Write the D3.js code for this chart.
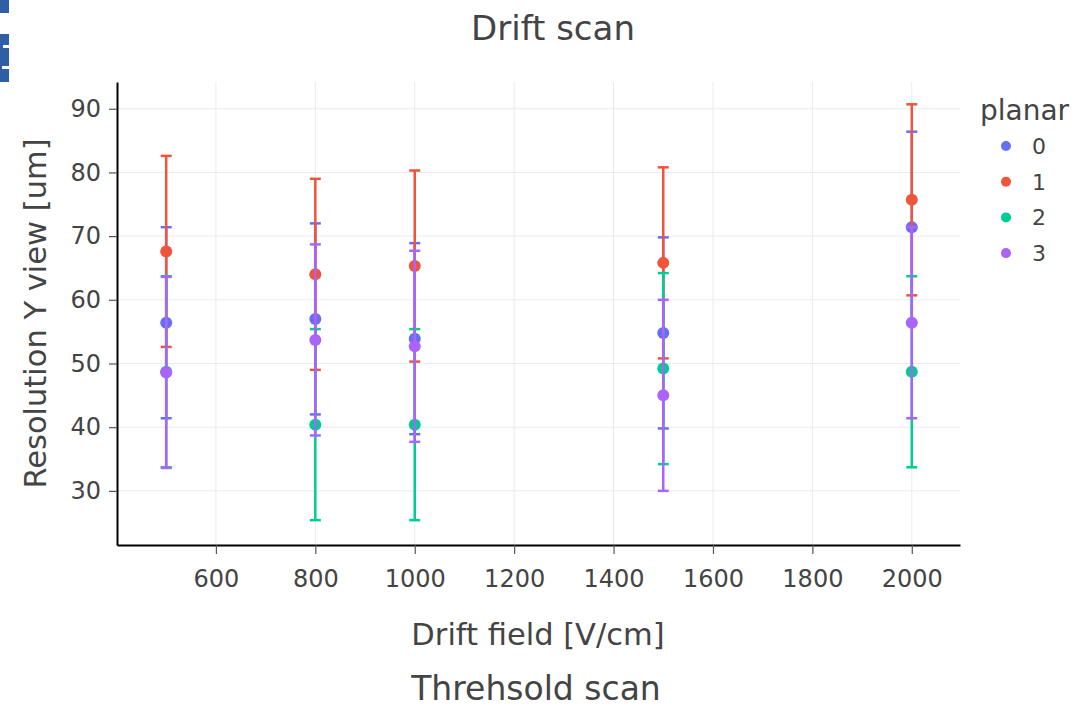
<!DOCTYPE html>
<html>
<head>
<meta charset="utf-8">
<script src="https://cdn.jsdelivr.net/npm/d3@7"></script>
<style>
    body { margin: 0; background: #fff; }
    svg { display: block; font-family: "DejaVu Sans", Verdana, sans-serif; }
</style>
</head>
<body>
<script>
// drift field values (x) and resolution per planar (y), all with +-15 error bars
var driftField = [500, 800, 1000, 1500, 2000];
var planars = ["0", "1", "2", "3"];
var res0 = [56.4, 57.0, 53.9, 54.8, 71.4];
var res1 = [67.6, 64.0, 65.3, 65.8, 75.7];
var res2 = [48.7, 40.4, 40.4, 49.2, 48.7];
var res3 = [48.6, 53.7, 52.7, 45.0, 56.4];
var err0 = [15, 15, 15, 15, 15];
var err1 = [15, 15, 15, 15, 15];
var err2 = [15, 15, 15, 15, 15];
var err3 = [15, 15, 15, 15, 15];
var xTicks = [600, 800, 1000, 1200, 1400, 1600, 1800, 2000];
var yTicks = [30, 40, 50, 60, 70, 80, 90];
var colors = ["#636efa", "#EF553B", "#00cc96", "#ab63fa"];

window.onload = function() {
    var series = [
        {name: planars[0], y: res0, err: err0, color: colors[0]},
        {name: planars[1], y: res1, err: err1, color: colors[1]},
        {name: planars[2], y: res2, err: err2, color: colors[2]},
        {name: planars[3], y: res3, err: err3, color: colors[3]}
    ];
    drawChart(series);
}

function drawChart(series) {
    var width = 1089;
    var height = 707;
    var left = 117, right = 960, top = 82, bottom = 545;

    var svg = d3.select("body")
                .append("svg")
                .attr("width", width)
                .attr("height", height);

    // leftover bit of an icon in the corner of the screenshot
    svg.append("rect").attr("x", 0).attr("y", 0).attr("width", 9).attr("height", 13).attr("fill", "#2f5ea8");
    svg.append("rect").attr("x", 0).attr("y", 34).attr("width", 9).attr("height", 48).attr("fill", "#2f5ea8");
    svg.append("rect").attr("x", 3).attr("y", 45).attr("width", 6).attr("height", 3).attr("fill", "#fff");
    svg.append("rect").attr("x", 2).attr("y", 66).attr("width", 7).attr("height", 3).attr("fill", "#fff");

    var x = d3.scaleLinear().domain([401, 2097]).range([left, right]);
    var y = d3.scaleLinear().domain([21.5, 94.2]).range([bottom, top]);

    // grid
    var grid = svg.append("g").classed("grid", true);
    grid.selectAll("line.gx")
        .data(xTicks)
        .enter()
        .append("line")
        .attr("x1", function(d) {return x(d);})
        .attr("x2", function(d) {return x(d);})
        .attr("y1", top)
        .attr("y2", bottom)
        .attr("stroke", "#ebebeb")
        .attr("stroke-width", 1);
    grid.selectAll("line.gy")
        .data(yTicks)
        .enter()
        .append("line")
        .attr("x1", left)
        .attr("x2", right)
        .attr("y1", function(d) {return y(d);})
        .attr("y2", function(d) {return y(d);})
        .attr("stroke", "#ebebeb")
        .attr("stroke-width", 1);

    // axes
    var xAxis = svg.append("g")
        .attr("transform", "translate(0," + bottom + ")")
        .call(d3.axisBottom(x).tickValues(xTicks).tickFormat(d3.format("d"))
            .tickSize(9).tickPadding(16).tickSizeOuter(0));
    var yAxis = svg.append("g")
        .attr("transform", "translate(" + left + ",0)")
        .call(d3.axisLeft(y).tickValues(yTicks).tickSize(8).tickPadding(8).tickSizeOuter(0));

    [xAxis, yAxis].forEach(function(a) {
        a.select(".domain").attr("stroke", "#000").attr("stroke-width", 2);
        a.selectAll(".tick line").attr("stroke", "#555").attr("stroke-width", 1.2);
        a.selectAll(".tick text")
            .attr("fill", "#444")
            .style("font-size", "24px")
            .style("font-family", "DejaVu Sans, Verdana, sans-serif");
    });

    // error bars and points, one trace after the other
    series.forEach(function(s) {
        var g = svg.append("g").classed("trace", true);
        var bars = g.selectAll("g.err")
            .data(driftField.map(function(d, i) {return {x: d, y: s.y[i], e: s.err[i]};}))
            .enter()
            .append("g");
        bars.append("line")
            .attr("x1", function(d) {return x(d.x);})
            .attr("x2", function(d) {return x(d.x);})
            .attr("y1", function(d) {return y(d.y + d.e);})
            .attr("y2", function(d) {return y(d.y - d.e);})
            .attr("stroke", s.color)
            .attr("stroke-width", 2.5);
        [1, -1].forEach(function(sign) {
            bars.append("line")
                .attr("x1", function(d) {return x(d.x) - 5.5;})
                .attr("x2", function(d) {return x(d.x) + 5.5;})
                .attr("y1", function(d) {return y(d.y + sign * d.e);})
                .attr("y2", function(d) {return y(d.y + sign * d.e);})
                .attr("stroke", s.color)
                .attr("stroke-width", 2.5);
        });
        bars.append("circle")
            .attr("cx", function(d) {return x(d.x);})
            .attr("cy", function(d) {return y(d.y);})
            .attr("r", 6)
            .attr("fill", s.color);
    });

    // titles
    svg.append("text")
        .attr("x", 553).attr("y", 40)
        .attr("text-anchor", "middle")
        .attr("fill", "#444")
        .style("font-size", "34px")
        .text("Drift scan");

    svg.append("text")
        .attr("x", 538).attr("y", 645)
        .attr("text-anchor", "middle")
        .attr("fill", "#444")
        .style("font-size", "30.5px")
        .text("Drift field [V/cm]");

    svg.append("text")
        .attr("transform", "translate(46," + ((top + bottom) / 2) + ") rotate(-90)")
        .attr("text-anchor", "middle")
        .attr("fill", "#444")
        .style("font-size", "30.5px")
        .text("Resolution Y view [um]");

    svg.append("text")
        .attr("x", 536).attr("y", 700)
        .attr("text-anchor", "middle")
        .attr("fill", "#444")
        .style("font-size", "33px")
        .text("Threhsold scan");

    // legend
    var legend = svg.append("g").attr("transform", "translate(980,0)");
    legend.append("text")
        .attr("x", 0).attr("y", 120)
        .attr("fill", "#444")
        .style("font-size", "28px")
        .text("planar");
    var items = legend.selectAll("g.item")
        .data(series)
        .enter()
        .append("g")
        .attr("transform", function(d, i) {return "translate(0," + (146 + i * 35.7) + ")";});
    items.append("circle")
        .attr("cx", 26).attr("cy", 0).attr("r", 5)
        .attr("fill", function(d) {return d.color;});
    items.append("text")
        .attr("x", 52).attr("y", 0).attr("dy", "0.36em")
        .attr("fill", "#444")
        .style("font-size", "22px")
        .text(function(d) {return d.name;});
}
</script>
</body>
</html>
